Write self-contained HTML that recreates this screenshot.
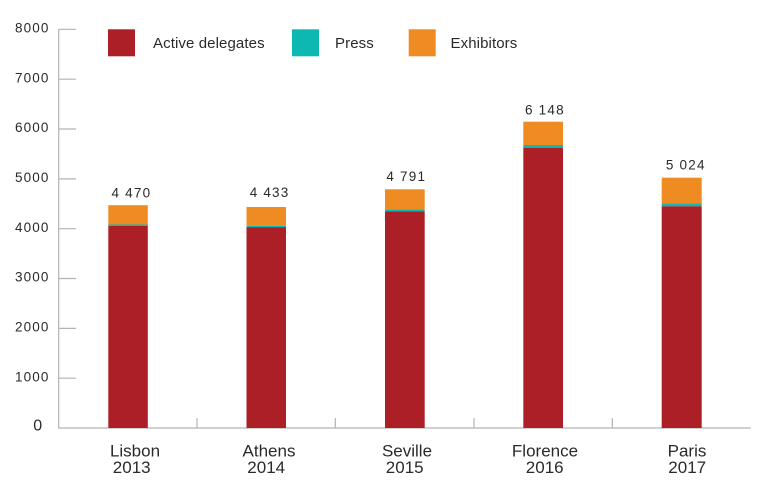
<!DOCTYPE html>
<html><head><meta charset="utf-8"><style>
html,body{margin:0;padding:0;background:#fff;}
svg{display:block;}
text{font-family:"Liberation Sans",sans-serif;fill:#2a2a2a;}
</style></head><body>
<svg width="765" height="496" viewBox="0 0 765 496" xmlns="http://www.w3.org/2000/svg">
<!-- axes -->
<g stroke="#b3b3b3" stroke-width="1.2" fill="none">
<line x1="58.7" y1="29.3" x2="58.7" y2="428"/>
<line x1="58.2" y1="428" x2="750.7" y2="428"/>
<line x1="58.7" y1="29.3" x2="76" y2="29.3"/>
<line x1="58.7" y1="79.2" x2="76" y2="79.2"/>
<line x1="58.7" y1="129" x2="76" y2="129"/>
<line x1="58.7" y1="178.9" x2="76" y2="178.9"/>
<line x1="58.7" y1="228.7" x2="76" y2="228.7"/>
<line x1="58.7" y1="278.5" x2="76" y2="278.5"/>
<line x1="58.7" y1="328.4" x2="76" y2="328.4"/>
<line x1="58.7" y1="378.2" x2="76" y2="378.2"/>
<line x1="197" y1="418" x2="197" y2="428"/>
<line x1="335.3" y1="418" x2="335.3" y2="428"/>
<line x1="474" y1="418" x2="474" y2="428"/>
<line x1="612.3" y1="418" x2="612.3" y2="428"/>
</g>
<!-- y labels -->
<g font-size="13.5" letter-spacing="1.1">
<text x="15" y="32.6">8000</text>
<text x="15" y="82.4">7000</text>
<text x="15" y="132.2">6000</text>
<text x="15" y="182.1">5000</text>
<text x="15" y="231.9">4000</text>
<text x="15" y="281.7">3000</text>
<text x="15" y="331.6">2000</text>
<text x="15" y="381.4">1000</text>
</g>
<text x="33.3" y="430.7" font-size="16">0</text>
<!-- legend -->
<rect x="108" y="29.3" width="27" height="27" fill="#AD1F27"/>
<text x="153" y="47.8" font-size="15" letter-spacing="0.1">Active delegates</text>
<rect x="292" y="29.3" width="27" height="27" fill="#0DB8B2"/>
<text x="335" y="47.8" font-size="15" letter-spacing="0.1">Press</text>
<rect x="408.7" y="29.3" width="27" height="27" fill="#EE8B23"/>
<text x="450.5" y="47.8" font-size="15" letter-spacing="0.1">Exhibitors</text>
<!-- bars -->
<g>
<rect x="108.3" y="205.2" width="39.5" height="19.3" fill="#EE8B23"/>
<rect x="108.3" y="224.5" width="39.5" height="1.3" fill="#0DB8B2"/>
<rect x="108.3" y="225.8" width="39.5" height="202.2" fill="#AD1F27"/>

<rect x="246.5" y="207" width="39.5" height="18.8" fill="#EE8B23"/>
<rect x="246.5" y="225.8" width="39.5" height="1.3" fill="#0DB8B2"/>
<rect x="246.5" y="227.1" width="39.5" height="200.9" fill="#AD1F27"/>

<rect x="385" y="189.3" width="39.7" height="20" fill="#EE8B23"/>
<rect x="385" y="209.3" width="39.7" height="2" fill="#0DB8B2"/>
<rect x="385" y="211.3" width="39.7" height="216.7" fill="#AD1F27"/>

<rect x="523.3" y="121.7" width="39.7" height="23.3" fill="#EE8B23"/>
<rect x="523.3" y="145" width="39.7" height="2.7" fill="#0DB8B2"/>
<rect x="523.3" y="147.7" width="39.7" height="280.3" fill="#AD1F27"/>

<rect x="661.7" y="177.7" width="40" height="25.6" fill="#EE8B23"/>
<rect x="661.7" y="203.3" width="40" height="3" fill="#0DB8B2"/>
<rect x="661.7" y="206.3" width="40" height="221.7" fill="#AD1F27"/>
</g>
<!-- value labels -->
<g font-size="13.5" letter-spacing="1.2" text-anchor="middle">
<text x="131.4" y="197.7">4 470</text>
<text x="269.6" y="197">4 433</text>
<text x="406.3" y="181">4 791</text>
<text x="544.9" y="114.3">6 148</text>
<text x="685.8" y="169.3">5 024</text>
</g>
<!-- x labels -->
<g font-size="17" text-anchor="middle">
<text x="135" y="456.6">Lisbon</text>
<text x="131.7" y="472.8">2013</text>
<text x="269" y="456.6">Athens</text>
<text x="266.2" y="472.8">2014</text>
<text x="407" y="456.6">Seville</text>
<text x="404.7" y="472.8">2015</text>
<text x="545" y="456.6">Florence</text>
<text x="544.7" y="472.8">2016</text>
<text x="687" y="456.6">Paris</text>
<text x="687.2" y="472.8">2017</text>
</g>
</svg>
</body></html>
